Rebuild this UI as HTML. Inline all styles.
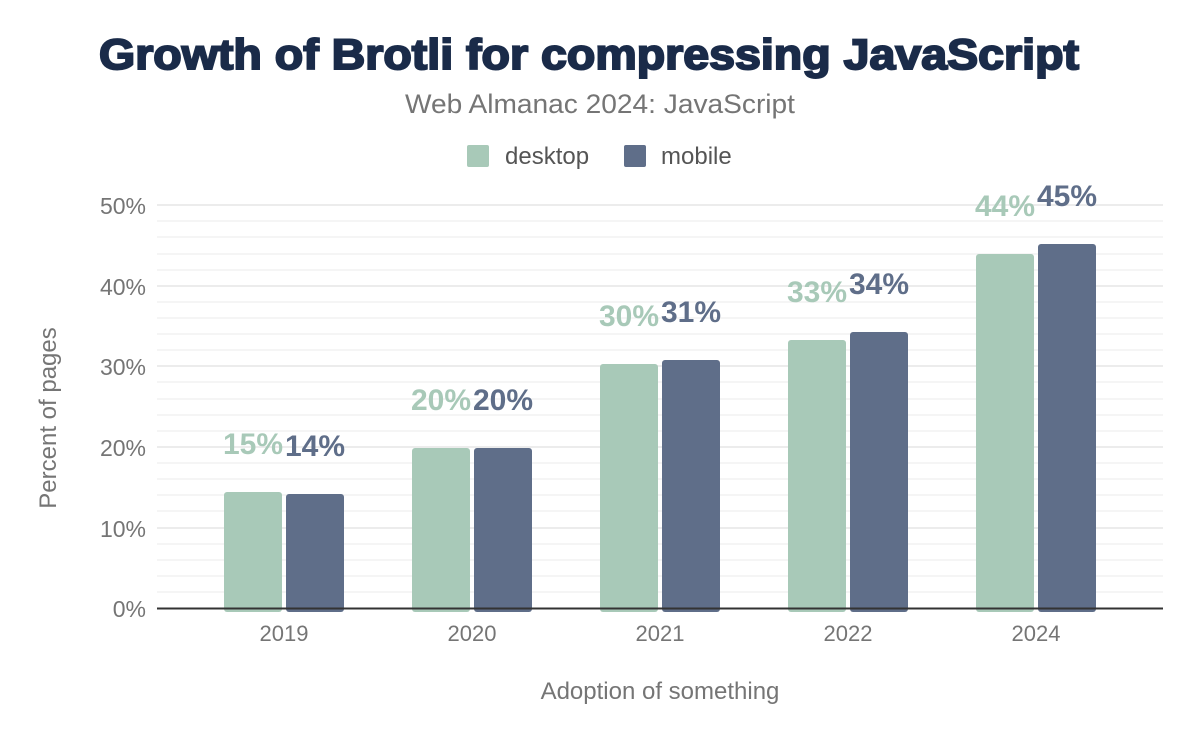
<!DOCTYPE html>
<html><head><meta charset="utf-8"><style>
body{margin:0;background:#fff;width:1200px;height:742px;overflow:hidden}
svg{display:block}
</style></head><body>
<svg width="1200" height="742" viewBox="0 0 1200 742" font-family="Liberation Sans, Arial, sans-serif">
<text x="589" y="69" text-anchor="middle" font-size="43" font-weight="900" fill="#1a2b49" stroke="#1a2b49" stroke-width="2" textLength="980" lengthAdjust="spacingAndGlyphs">Growth of Brotli for compressing JavaScript</text>
<text x="600" y="113" text-anchor="middle" font-size="27" fill="#757575" textLength="390" lengthAdjust="spacingAndGlyphs">Web Almanac 2024: JavaScript</text>
<rect x="467" y="145" width="22" height="22" rx="2" fill="#a8c9b8"/>
<text x="505" y="164" font-size="24" fill="#555">desktop</text>
<rect x="624" y="145" width="22" height="22" rx="2" fill="#5f6e89"/>
<text x="661" y="164" font-size="24" fill="#555">mobile</text>
<g stroke="#f2f2f2" stroke-width="1.5">
<line x1="157" x2="1163" y1="592" y2="592"/><line x1="157" x2="1163" y1="576" y2="576"/><line x1="157" x2="1163" y1="560" y2="560"/><line x1="157" x2="1163" y1="544" y2="544"/>
<line x1="157" x2="1163" y1="511" y2="511"/><line x1="157" x2="1163" y1="495" y2="495"/><line x1="157" x2="1163" y1="479" y2="479"/><line x1="157" x2="1163" y1="463" y2="463"/>
<line x1="157" x2="1163" y1="431" y2="431"/><line x1="157" x2="1163" y1="415" y2="415"/><line x1="157" x2="1163" y1="399" y2="399"/><line x1="157" x2="1163" y1="382" y2="382"/>
<line x1="157" x2="1163" y1="350" y2="350"/><line x1="157" x2="1163" y1="334" y2="334"/><line x1="157" x2="1163" y1="318" y2="318"/><line x1="157" x2="1163" y1="302" y2="302"/>
<line x1="157" x2="1163" y1="270" y2="270"/><line x1="157" x2="1163" y1="254" y2="254"/><line x1="157" x2="1163" y1="237" y2="237"/><line x1="157" x2="1163" y1="221" y2="221"/>
</g>
<g stroke="#ececec" stroke-width="2">
<line x1="157" x2="1163" y1="528" y2="528"/><line x1="157" x2="1163" y1="447" y2="447"/><line x1="157" x2="1163" y1="366" y2="366"/><line x1="157" x2="1163" y1="286" y2="286"/><line x1="157" x2="1163" y1="205" y2="205"/>
</g>
<g font-size="23" fill="#757575" text-anchor="end">
<text x="146" y="617">0%</text><text x="146" y="537">10%</text><text x="146" y="456">20%</text><text x="146" y="375">30%</text><text x="146" y="295">40%</text><text x="146" y="214">50%</text>
</g>
<text transform="translate(56,418) rotate(-90)" text-anchor="middle" font-size="24" fill="#757575">Percent of pages</text>
<g fill="#a8c9b8">
<rect x="224" y="492" width="58" height="120" rx="3"/><rect x="412" y="448" width="58" height="164" rx="3"/><rect x="600" y="364" width="58" height="248" rx="3"/><rect x="788" y="340" width="58" height="272" rx="3"/><rect x="976" y="254" width="58" height="358" rx="3"/>
</g>
<g fill="#5f6e89">
<rect x="286" y="494" width="58" height="118" rx="3"/><rect x="474" y="448" width="58" height="164" rx="3"/><rect x="662" y="360" width="58" height="252" rx="3"/><rect x="850" y="332" width="58" height="280" rx="3"/><rect x="1038" y="244" width="58" height="368" rx="3"/>
</g>
<line x1="157" x2="1163" y1="608.5" y2="608.5" stroke="#333" stroke-width="2"/>
<g font-size="30" font-weight="bold" text-anchor="middle">
<g fill="#a8c9b8"><text x="253" y="454">15%</text><text x="441" y="410">20%</text><text x="629" y="326">30%</text><text x="817" y="302">33%</text><text x="1005" y="216">44%</text></g>
<g fill="#5f6e89"><text x="315" y="456">14%</text><text x="503" y="410">20%</text><text x="691" y="322">31%</text><text x="879" y="294">34%</text><text x="1067" y="206">45%</text></g>
</g>
<g font-size="22" fill="#757575" text-anchor="middle">
<text x="284" y="641">2019</text><text x="472" y="641">2020</text><text x="660" y="641">2021</text><text x="848" y="641">2022</text><text x="1036" y="641">2024</text>
</g>
<text x="660" y="699" text-anchor="middle" font-size="24" fill="#757575">Adoption of something</text>
</svg>
</body></html>
